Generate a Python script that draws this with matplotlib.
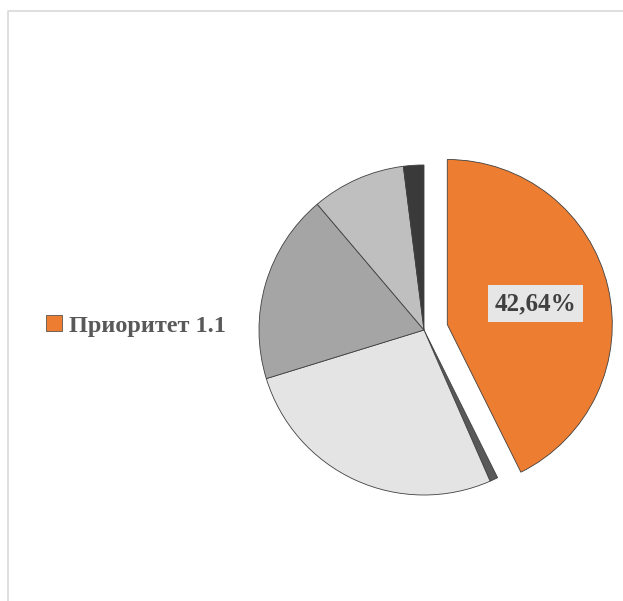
import matplotlib.pyplot as plt
import numpy as np
from matplotlib.patches import Patch

# slice shares in percent, clockwise from 12 o'clock
labels = ["Приоритет 1.1", "Приоритет 1.2", "Приоритет 1.3",
          "Приоритет 1.4", "Приоритет 1.5", "Приоритет 1.6"]
values = [42.64, 0.80, 26.80, 18.56, 9.20, 2.00]
colors = ["#ed7d31", "#595959", "#e4e4e4", "#a5a5a5", "#bfbfbf", "#3a3a3a"]
explode_frac = [0.145, 0, 0, 0, 0, 0]

W, H = 623, 601
R = 165

fig = plt.figure(figsize=(W / 100, H / 100), dpi=100)
ax = fig.add_axes([0, 0, 1, 1])

# chart frame (left and top edges visible)
ax.plot([7.5, 7.5, W + 5], [-5, H - 10.5, H - 10.5], color="#d9d9d9", lw=1.2)

wedges, _ = ax.pie(
    values,
    colors=colors,
    explode=[e * R for e in explode_frac],
    startangle=90,
    counterclock=False,
    radius=R,
    center=(424, H - 330),
    wedgeprops=dict(edgecolor="#404040", linewidth=0.6),
    frame=True,
)
ax.set_xlim(0, W)
ax.set_ylim(0, H)
ax.set_aspect("equal")
ax.axis("off")

# data label only on the first slice
w = wedges[0]
mid = np.deg2rad((w.theta1 + w.theta2) / 2)
cx, cy = w.center
tx = cx + 0.55 * R * np.cos(mid)
ty = cy + 0.55 * R * np.sin(mid)
ax.text(tx, ty, "{:.2f}%".format(values[0]).replace(".", ","),
        ha="center", va="center", fontsize=18, fontweight="bold",
        family="Liberation Serif", color="#404040",
        bbox=dict(boxstyle="square,pad=0.28", fc="#e7e6e6", ec="none"))

handles = [Patch(facecolor=colors[0], edgecolor="#404040", linewidth=0.5)]
leg = ax.legend(handles, labels[:1], loc="center left",
                bbox_to_anchor=(46 / W, 1 - 326 / H), frameon=False,
                handlelength=0.65, handleheight=0.65, handletextpad=0.3,
                borderaxespad=0, borderpad=0,
                prop=dict(family="Liberation Serif", weight="bold", size=17.5))
for t in leg.get_texts():
    t.set_color("#595959")

fig.savefig("out.png", dpi=100)
